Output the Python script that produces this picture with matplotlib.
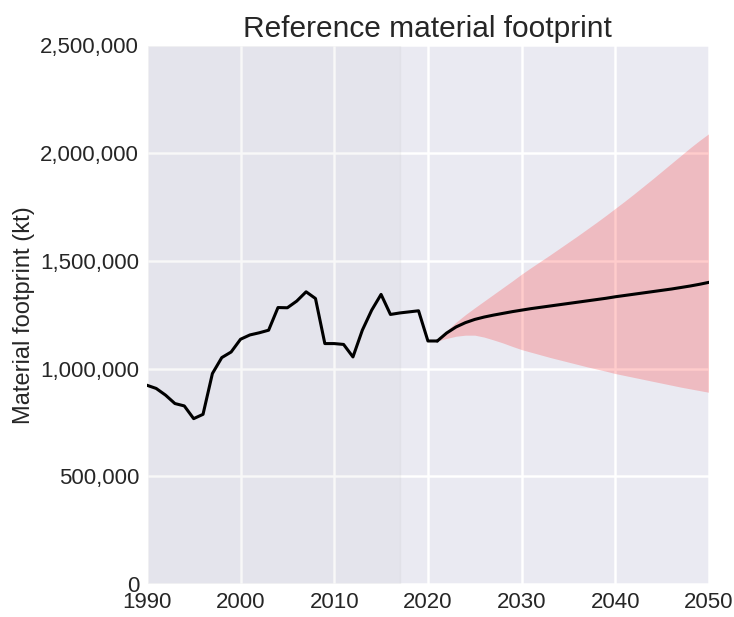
import matplotlib
matplotlib.use('Agg')
import matplotlib.pyplot as plt
import matplotlib.ticker as mticker
import seaborn as sns
import numpy as np

# historical material footprint (kt), 1990-2021
hist_years = list(range(1990, 2022))
hist_values = [923000, 908000, 877000, 838000, 827000, 768000, 788000, 977000,
               1051000, 1077000, 1136000, 1156000, 1166000, 1178000, 1283000, 1282000,
               1313000, 1356000, 1325000, 1116000, 1116000, 1112000, 1054000, 1178000,
               1271000, 1344000, 1251000, 1258000, 1263000, 1268000, 1128000, 1128000]

# forecast 2021-2050: mean, lower and upper bound
fc_years = list(range(2021, 2051))
fc_mean = [1128000, 1165000, 1193000, 1213000, 1228000, 1239000, 1248000, 1256000,
           1264000, 1271000, 1278000, 1284000, 1290000, 1296000, 1302000, 1308000,
           1314000, 1320000, 1326000, 1333000, 1339000, 1345000, 1351000, 1357000,
           1363000, 1369000, 1376000, 1383000, 1391000, 1400000]
fc_lower = [1128000, 1140000, 1150000, 1155000, 1155000, 1146000, 1133000, 1119000,
            1103000, 1088000, 1076000, 1064000, 1052000, 1041000, 1030000, 1019000,
            1008000, 998000, 988000, 977000, 968000, 959000, 950000, 941000,
            932000, 923000, 914000, 906000, 898000, 890000]
fc_upper = [1128000, 1175000, 1215000, 1250000, 1282000, 1313000, 1344000, 1375000,
            1406000, 1438000, 1468000, 1497000, 1526000, 1556000, 1586000, 1616000,
            1647000, 1678000, 1710000, 1743000, 1776000, 1810000, 1845000, 1880000,
            1916000, 1952000, 1988000, 2024000, 2058000, 2090000]

sns.set_style('darkgrid')
plt.rcParams['font.family'] = ['Liberation Sans', 'DejaVu Sans']

fig, ax = plt.subplots(figsize=(7.34, 6.17), dpi=100)
fig.subplots_adjust(left=0.2, right=0.966, top=0.927, bottom=0.053)

ax.grid(True, color='white', linewidth=1.8)
ax.axvspan(1990, 2017, color='gray', alpha=0.05, zorder=1.5)
ax.fill_between(fc_years, fc_lower, fc_upper, color='red', alpha=0.2, linewidth=0, zorder=2)
ax.plot(hist_years, hist_values, color='black', linewidth=2.2, zorder=3)
ax.plot(fc_years, fc_mean, color='black', linewidth=2.2, zorder=3)

ax.set_xlim(1990, 2050)
ax.set_ylim(0, 2500000)
ax.set_xticks([1990, 2000, 2010, 2020, 2030, 2040, 2050])
ax.yaxis.set_major_formatter(mticker.FuncFormatter(lambda v, p: '{:,.0f}'.format(v)))
ax.tick_params(labelsize=16, colors='#262626', pad=2)
ax.set_ylabel('Material footprint (kt)', fontsize=17, color='#262626')
ax.set_title('Reference material footprint', fontsize=21.5, color='#262626')

plt.savefig('out.png', dpi=100)
